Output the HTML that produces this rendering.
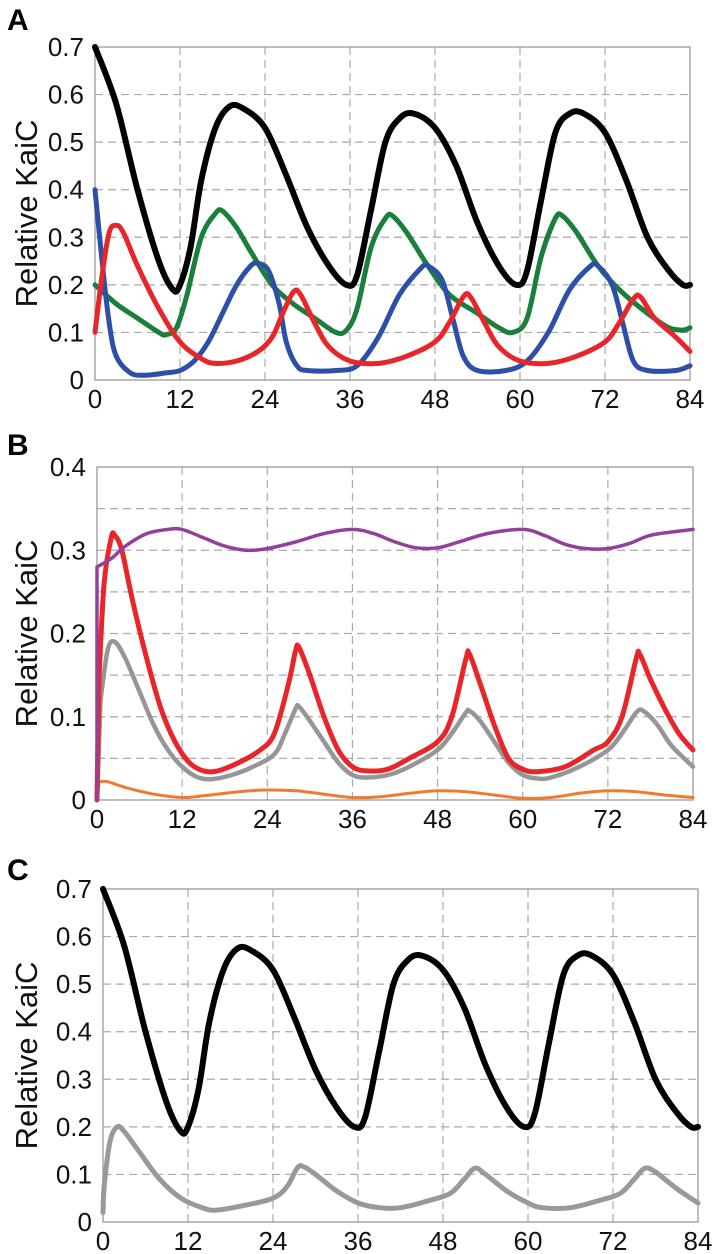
<!DOCTYPE html>
<html><head><meta charset="utf-8"><style>
body{margin:0;background:#fff;width:716px;height:1254px;overflow:hidden}
svg{display:block;font-family:"Liberation Sans",Arial,sans-serif}
</style></head><body>
<svg id="fig" width="716" height="1254"></svg>
<script>
const hours=[0,12,24,36,48,60,72,84];
const ticksA=[0,0.1,0.2,0.3,0.4,0.5,0.6,0.7];
const ticksB=[0,0.1,0.2,0.3,0.4];
const aBlack=[[0,0.70],[3,0.58],[6,0.40],[9,0.25],[11,0.19],[12,0.20],[13.5,0.28],[15,0.42],[17,0.53],[19,0.575],[21,0.57],[24,0.53],[27,0.43],[30,0.32],[33,0.24],[35.5,0.20],[37,0.22],[39,0.36],[41,0.50],[43,0.55],[45,0.56],[48,0.53],[51,0.45],[54,0.33],[57,0.24],[59.5,0.20],[61,0.23],[63,0.38],[65,0.52],[67,0.56],[69,0.56],[72,0.52],[75,0.42],[78,0.30],[81,0.23],[83,0.20],[84,0.20]];
const aGreen=[[0,0.20],[3,0.16],[6,0.13],[9,0.10],[10,0.095],[11.5,0.11],[13,0.18],[15,0.30],[17,0.35],[18,0.355],[20,0.32],[22,0.27],[25,0.20],[28,0.16],[31,0.13],[34,0.10],[35.5,0.105],[37,0.15],[39,0.28],[41,0.34],[42,0.345],[44,0.31],[47,0.24],[50,0.18],[54,0.14],[57,0.11],[59,0.10],[61,0.13],[63,0.26],[65,0.34],[66,0.345],[68,0.31],[71,0.24],[74,0.19],[78,0.14],[81,0.11],[83,0.105],[84,0.11]];
const aBlue=[[0,0.40],[1,0.25],[2,0.12],[3,0.05],[5,0.015],[7,0.01],[10,0.015],[12,0.02],[14,0.04],[16,0.08],[18,0.14],[20,0.20],[22,0.24],[23,0.245],[24.5,0.23],[26,0.16],[27,0.08],[28.5,0.03],[30,0.02],[34,0.02],[37,0.03],[40,0.09],[43,0.18],[46,0.235],[47,0.24],[49,0.21],[50.5,0.13],[52,0.05],[54,0.02],[58,0.02],[61,0.04],[64,0.10],[67,0.19],[70,0.24],[71,0.24],[73,0.20],[74.5,0.12],[76,0.04],[78,0.02],[82,0.02],[84,0.03]];
const aRed=[[0,0.10],[1,0.22],[2,0.31],[3,0.325],[4,0.31],[6,0.24],[9,0.15],[12,0.08],[15,0.045],[17,0.035],[20,0.04],[23,0.06],[25,0.09],[26.5,0.14],[28,0.185],[29,0.18],[31,0.12],[33,0.07],[36,0.04],[40,0.035],[44,0.05],[48,0.08],[50,0.12],[52,0.175],[53,0.175],[55,0.12],[57,0.07],[60,0.04],[64,0.035],[68,0.05],[72,0.08],[74,0.12],[76,0.17],[77,0.175],[79,0.13],[82,0.09],[84,0.06]];
const bPurple=[[0,0.28],[2,0.29],[4,0.305],[7,0.32],[10,0.325],[12,0.325],[15,0.315],[18,0.305],[21,0.30],[24,0.302],[28,0.31],[32,0.32],[36,0.325],[39,0.32],[42,0.31],[45,0.303],[48,0.303],[51,0.31],[55,0.32],[60,0.325],[63,0.318],[66,0.307],[69,0.302],[72,0.302],[75,0.308],[78,0.318],[82,0.323],[84,0.325]];
const bRed=[[0.3,0.15],[1,0.26],[2,0.315],[2.5,0.318],[3.5,0.30],[5,0.24],[7,0.17],[9,0.11],[11,0.07],[13,0.045],[15,0.035],[17,0.035],[20,0.045],[23,0.06],[25,0.08],[27,0.14],[28,0.18],[28.5,0.183],[30,0.15],[32,0.10],[34,0.06],[36,0.04],[38,0.035],[41,0.037],[44,0.05],[48,0.07],[50,0.10],[52,0.17],[52.5,0.175],[54,0.14],[56,0.09],[58,0.05],[60,0.037],[62,0.034],[66,0.04],[70,0.06],[72,0.07],[74,0.10],[76,0.17],[76.5,0.175],[78,0.145],[80,0.11],[82,0.08],[84,0.06]];
const bGray=[[0.5,0.12],[1.5,0.18],[2.5,0.19],[4,0.17],[6,0.13],[8,0.09],[10,0.06],[12,0.04],[14,0.028],[16,0.025],[19,0.03],[22,0.04],[25,0.055],[26.5,0.08],[28,0.11],[28.5,0.112],[30,0.095],[32,0.07],[34,0.045],[36,0.03],[38,0.027],[41,0.03],[44,0.04],[48,0.06],[50,0.08],[52,0.105],[52.5,0.107],[54,0.095],[56,0.07],[58,0.045],[60,0.03],[62,0.026],[64,0.027],[68,0.04],[72,0.06],[74,0.08],[76,0.105],[77,0.107],[79,0.09],[81,0.065],[84,0.04]];
const bOrange=[[0.3,0.022],[1.5,0.022],[4,0.015],[8,0.007],[12,0.003],[15,0.005],[20,0.01],[24,0.012],[28,0.011],[32,0.007],[36,0.003],[40,0.004],[44,0.008],[48,0.011],[52,0.01],[56,0.006],[60,0.002],[64,0.003],[68,0.008],[72,0.011],[76,0.01],[80,0.006],[84,0.003]];
const cBlack=aBlack;
const cGray=[[0,0.02],[0.2,0.08],[1,0.17],[2,0.2],[3,0.19],[5,0.15],[8,0.09],[11,0.05],[14,0.03],[16,0.025],[20,0.035],[24,0.05],[26,0.075],[27.5,0.115],[28.5,0.115],[30,0.1],[33,0.065],[36,0.04],[39,0.03],[42,0.03],[46,0.045],[49,0.06],[51,0.09],[52.5,0.113],[54,0.1],[57,0.065],[60,0.04],[62,0.03],[66,0.03],[70,0.045],[73,0.06],[75,0.09],[76.5,0.113],[78,0.105],[81,0.07],[84,0.04]];

const NS="http://www.w3.org/2000/svg";
const svg=document.getElementById('fig');
function mk(tag,attrs,parent){const e=document.createElementNS(NS,tag);for(const k in attrs)e.setAttribute(k,attrs[k]);(parent||svg).appendChild(e);return e;}
function smooth(pts,start){let d=start?('M'+start[0].toFixed(1)+','+start[1].toFixed(1)+'L'):'M';
 d+=pts[0][0].toFixed(1)+','+pts[0][1].toFixed(1);
 for(let i=0;i<pts.length-1;i++){const p0=pts[Math.max(0,i-1)],p1=pts[i],p2=pts[i+1],p3=pts[Math.min(pts.length-1,i+2)];
  const c1=[p1[0]+(p2[0]-p0[0])/6,p1[1]+(p2[1]-p0[1])/6],c2=[p2[0]-(p3[0]-p1[0])/6,p2[1]-(p3[1]-p1[1])/6];
  d+=`C${c1[0].toFixed(1)},${c1[1].toFixed(1)} ${c2[0].toFixed(1)},${c2[1].toFixed(1)} ${p2[0].toFixed(1)},${p2[1].toFixed(1)}`;}
 return d;}
function panel(id,letter,ly,L,R,T,B,ymax,ticks,gridStep,series){
 const g=mk('g',{});
 
 
 const xs=v=>L+(v/84)*(R-L), ys=v=>B-(v/ymax)*(B-T);
 const lt=mk('text',{x:7,y:ly,'font-size':30,'font-weight':'bold',fill:'#000'},g);lt.textContent=letter;
 
 for(let v=gridStep;v<ymax-1e-6;v+=gridStep){const l=mk('line',{x1:L,x2:R,y1:ys(v),y2:ys(v),stroke:'#aaa','stroke-dasharray':'8,5','stroke-width':1.2},g);
  }
 hours.forEach(h=>{if(h>0&&h<84){const l=mk('line',{x1:xs(h),x2:xs(h),y1:T,y2:B,stroke:'#aaa','stroke-dasharray':'8,5','stroke-width':1.2},g);
  }});
 const fr=mk('rect',{x:L,y:T,width:R-L,height:B-T,fill:'none',stroke:'#999','stroke-width':1.3},g);
 
 ticks.forEach(t=>{const tx=mk('text',{x:L-11,y:ys(t)+9,'font-size':26,'text-anchor':'end',fill:'#111'},g);tx.textContent=t===0?'0':t.toFixed(1);
  });
 hours.forEach(h=>{const tx=mk('text',{x:xs(h),y:B+28,'font-size':26,'text-anchor':'middle',fill:'#111'},g);tx.textContent=h;
  });
 const yt=mk('text',{x:0,y:0,'font-size':31,'text-anchor':'middle',fill:'#111',transform:`translate(37,${(T+B)/2}) rotate(-90)`},g);yt.textContent='Relative KaiC';
 
 series.forEach(s=>{const st=s.fromZero?[xs(0),ys(0)]:null;
  const p=mk('path',{d:smooth(s.data.map(q=>[xs(q[0]),ys(q[1])]),st),fill:'none',stroke:s.c,'stroke-width':s.w,'stroke-linejoin':'round','stroke-linecap':'round'},g);
  });
}
panel('a','A',30,95,690,47,380,0.7,ticksA,0.1,[
 {data:aGreen,c:'#1a7f3a',w:5,n:'series-green'},{data:aBlue,c:'#2e4fa8',w:5,n:'series-blue'},
 {data:aRed,c:'#e8262a',w:5,n:'series-red'},{data:aBlack,c:'#000',w:6,n:'series-black'}]);
panel('b','B',455,97,693,467,800,0.4,ticksB,0.05,[
 {data:bOrange,c:'#ef7a30',w:3,n:'series-orange',fromZero:true},{data:bGray,c:'#969696',w:4.5,n:'series-gray',fromZero:true},
 {data:bRed,c:'#e8262a',w:5,n:'series-red',fromZero:true},{data:bPurple,c:'#92409a',w:3.5,n:'series-purple',fromZero:true}]);
panel('c','C',880,103,698,889,1222,0.7,ticksA,0.1,[
 {data:cGray,c:'#999',w:5,n:'series-gray'},{data:cBlack,c:'#000',w:6,n:'series-black'}]);
</script>
</body></html>
